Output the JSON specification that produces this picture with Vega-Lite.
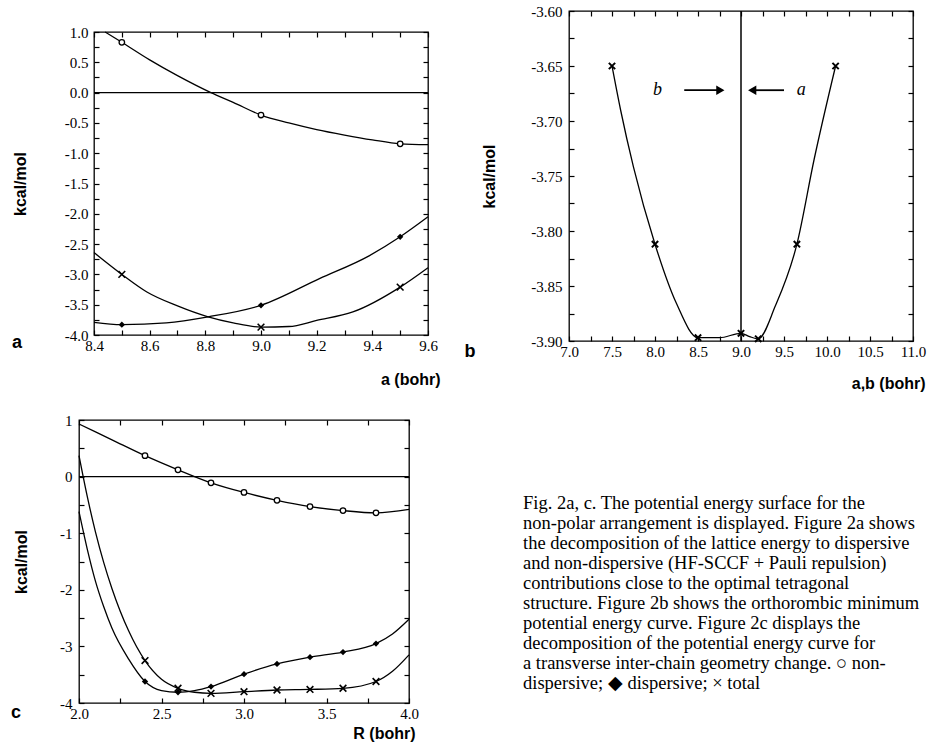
{
  "$schema": "https://vega.github.io/schema/vega-lite/v6.json",
  "background": "white",
  "padding": {"left": 10, "top": 3, "right": 0, "bottom": 0},
  "columns": 2,
  "align": "none",
  "bounds": "full",
  "spacing": {"row": 20, "column": 22},
  "concat": [
    {
      "spacing": -69,
      "hconcat": [
        {
          "width": 1, "height": 1,
          "view": {"stroke": null},
          "data": {"values": [{}]},
          "mark": {"type": "text", "text": ""},
          "encoding": {}
        },
        {
          "spacing": 7,
          "vconcat": [
            {
              "width": 1, "height": 1,
              "view": {"stroke": null},
              "data": {"values": [{}]},
              "mark": {"type": "text", "text": ""},
              "encoding": {}
            },
            {
              "width": 334,
              "height": 303,
              "layer": [
                {
                  "data": {"name": "aLines"},
                  "mark": {"type": "line", "interpolate": "monotone", "color": "black", "strokeWidth": 1.3},
                  "encoding": {
                    "x": {"field": "x", "type": "quantitative",
                      "scale": {"domain": [8.4, 9.6], "nice": false, "zero": false},
                      "axis": {"values": [8.4,8.5,8.6,8.7,8.8,8.9,9.0,9.1,9.2,9.3,9.4,9.5,9.6],
                        "labelExpr": "abs(datum.value*5-round(datum.value*5))<0.01 ? format(datum.value,'.1f') : ''",
                        "labelPadding": 8,
                        "title": "a   (bohr)", "titleAnchor": "end", "titleAlign": "right", "titleX": 346, "titlePadding": 18}},
                    "y": {"field": "y", "type": "quantitative",
                      "scale": {"domain": [-4, 1], "nice": false, "zero": false},
                      "axis": {"values": [-4,-3.75,-3.5,-3.25,-3,-2.75,-2.5,-2.25,-2,-1.75,-1.5,-1.25,-1,-0.75,-0.5,-0.25,0,0.25,0.5,0.75,1],
                        "labelExpr": "abs(datum.value*2-round(datum.value*2))<0.01 ? replace(format(datum.value,'.1f'),'\u2212','-') : ''",
                        "labelPadding": 11,
                        "title": "kcal/mol", "titlePadding": 36}},
                    "detail": {"field": "series"}
                  }
                },
                {
                  "data": {"values": [{}]},
                  "mark": {"type": "rule", "color": "black", "strokeWidth": 1.2},
                  "encoding": {"y": {"datum": 0, "type": "quantitative", "axis": null}}
                },
                {
                  "data": {"name": "aPts"},
                  "transform": [{"filter": "datum.series === 'nd'"}],
                  "mark": {"type": "point", "shape": "circle", "filled": true, "fill": "white", "stroke": "black", "strokeWidth": 1.3, "size": 30, "opacity": 1},
                  "encoding": {
                    "x": {"field": "x", "type": "quantitative",
                      "axis": {"orient": "top", "labels": false, "title": null, "values": [8.4,8.5,8.6,8.7,8.8,8.9,9.0,9.1,9.2,9.3,9.4,9.5,9.6]}},
                    "y": {"field": "y", "type": "quantitative",
                      "axis": {"orient": "right", "labels": false, "title": null, "values": [-4,-3.75,-3.5,-3.25,-3,-2.75,-2.5,-2.25,-2,-1.75,-1.5,-1.25,-1,-0.75,-0.5,-0.25,0,0.25,0.5,0.75,1]}}
                  }
                },
                {
                  "data": {"name": "aPts"},
                  "transform": [{"filter": "datum.series === 'disp'"}],
                  "mark": {"type": "point", "shape": "diamond", "filled": true, "color": "black", "size": 40, "opacity": 1},
                  "encoding": {
                    "x": {"field": "x", "type": "quantitative", "axis": null},
                    "y": {"field": "y", "type": "quantitative", "axis": null}
                  }
                },
                {
                  "data": {"name": "aPts"},
                  "transform": [{"filter": "datum.series === 'tot'"}],
                  "mark": {"type": "point", "shape": "M-1,-1L1,1M-1,1L1,-1", "filled": false, "color": "black", "strokeWidth": 1.6, "size": 45, "opacity": 1},
                  "encoding": {
                    "x": {"field": "x", "type": "quantitative", "axis": null},
                    "y": {"field": "y", "type": "quantitative", "axis": null}
                  }
                },
                {
                  "data": {"values": [{"label": "a"}]},
                  "mark": {"type": "text", "font": "Liberation Sans", "fontWeight": "bold", "fontSize": 18, "color": "black", "align": "center", "baseline": "middle", "dx": -77, "dy": 8},
                  "encoding": {
                    "x": {"datum": 8.4, "type": "quantitative", "axis": null},
                    "y": {"datum": -4, "type": "quantitative", "axis": null},
                    "text": {"field": "label"}
                  }
                }
              ],
              "resolve": {"axis": {"x": "independent", "y": "independent"}}
            }
          ]
        }
      ]
    },
    {
      "width": 344,
      "height": 330,
      "layer": [
        {
          "data": {"name": "bLine"},
          "mark": {"type": "line", "interpolate": "monotone", "color": "black", "strokeWidth": 1.3},
          "encoding": {
            "x": {"field": "x", "type": "quantitative",
              "scale": {"domain": [7, 11], "nice": false, "zero": false},
              "axis": {"values": [7,7.25,7.5,7.75,8,8.25,8.5,8.75,9,9.25,9.5,9.75,10,10.25,10.5,10.75,11],
                "labelExpr": "abs(datum.value*2-round(datum.value*2))<0.01 ? format(datum.value,'.1f') : ''",
                "labelPadding": 8,
                "title": "a,b   (bohr)", "titleAnchor": "end", "titleAlign": "right", "titleX": 356, "titlePadding": 16}},
            "y": {"field": "y", "type": "quantitative",
              "scale": {"domain": [-3.9, -3.6], "nice": false, "zero": false},
              "axis": {"values": [-3.9,-3.875,-3.85,-3.825,-3.8,-3.775,-3.75,-3.725,-3.7,-3.675,-3.65,-3.625,-3.6],
                "labelExpr": "abs(datum.value*20-round(datum.value*20))<0.01 ? replace(format(datum.value,'.2f'),'\u2212','-') : ''",
                "labelPadding": 12,
                "title": "kcal/mol", "titlePadding": 33}}
          }
        },
        {
          "data": {"values": [{}]},
          "mark": {"type": "rule", "color": "black", "strokeWidth": 1.5},
          "encoding": {"x": {"datum": 9.0, "type": "quantitative", "axis": null}}
        },
        {
          "data": {"name": "bPts"},
          "mark": {"type": "point", "shape": "M-1,-1L1,1M-1,1L1,-1", "filled": false, "color": "black", "strokeWidth": 2, "size": 40, "opacity": 1},
          "encoding": {
            "x": {"field": "x", "type": "quantitative",
              "axis": {"orient": "top", "labels": false, "title": null, "values": [7,7.25,7.5,7.75,8,8.25,8.5,8.75,9,9.25,9.5,9.75,10,10.25,10.5,10.75,11]}},
            "y": {"field": "y", "type": "quantitative",
              "axis": {"orient": "right", "labels": false, "title": null, "values": [-3.9,-3.875,-3.85,-3.825,-3.8,-3.775,-3.75,-3.725,-3.7,-3.675,-3.65,-3.625,-3.6]}}
          }
        },
        {
          "data": {"name": "bArrows"},
          "mark": {"type": "rule", "color": "black", "strokeWidth": 1.8},
          "encoding": {
            "x": {"field": "from", "type": "quantitative", "axis": null},
            "x2": {"field": "to"},
            "y": {"field": "y", "type": "quantitative", "axis": null}
          }
        },
        {
          "data": {"name": "bArrows"},
          "transform": [{"filter": "datum.label === 'b'"}],
          "mark": {"type": "point", "shape": "triangle-right", "filled": true, "color": "black", "size": 90, "opacity": 1},
          "encoding": {
            "x": {"field": "to", "type": "quantitative", "axis": null},
            "y": {"field": "y", "type": "quantitative", "axis": null}
          }
        },
        {
          "data": {"name": "bArrows"},
          "transform": [{"filter": "datum.label === 'a'"}],
          "mark": {"type": "point", "shape": "triangle-left", "filled": true, "color": "black", "size": 90, "opacity": 1},
          "encoding": {
            "x": {"field": "to", "type": "quantitative", "axis": null},
            "y": {"field": "y", "type": "quantitative", "axis": null}
          }
        },
        {
          "data": {"name": "bArrows"},
          "mark": {"type": "text", "font": "Liberation Serif", "fontStyle": "italic", "fontSize": 18, "color": "black", "align": "center", "baseline": "middle"},
          "encoding": {
            "x": {"field": "tx", "type": "quantitative", "axis": null},
            "y": {"field": "y", "type": "quantitative", "axis": null},
            "text": {"field": "label"}
          }
        },
        {
          "data": {"values": [{"label": "b"}]},
          "mark": {"type": "text", "font": "Liberation Sans", "fontWeight": "bold", "fontSize": 18, "color": "black", "align": "center", "baseline": "middle", "dx": -99, "dy": 11},
          "encoding": {
            "x": {"datum": 7, "type": "quantitative", "axis": null},
            "y": {"datum": -3.9, "type": "quantitative", "axis": null},
            "text": {"field": "label"}
          }
        }
      ],
      "resolve": {"axis": {"x": "independent", "y": "independent"}}
    },
    {
      "width": 330,
      "height": 283,
      "layer": [
        {
          "data": {"name": "cLines"},
          "mark": {"type": "line", "interpolate": "monotone", "color": "black", "strokeWidth": 1.3},
          "encoding": {
            "x": {"field": "x", "type": "quantitative",
              "scale": {"domain": [2, 4], "nice": false, "zero": false},
              "axis": {"values": [2,2.25,2.5,2.75,3,3.25,3.5,3.75,4],
                "labelExpr": "abs(datum.value*2-round(datum.value*2))<0.01 ? format(datum.value,'.1f') : ''",
                "labelPadding": 8,
                "title": "R    (bohr)", "titleAnchor": "end", "titleAlign": "right", "titleX": 336, "titlePadding": 4}},
            "y": {"field": "y", "type": "quantitative",
              "scale": {"domain": [-4, 1], "nice": false, "zero": false},
              "axis": {"values": [-4,-3.5,-3,-2.5,-2,-1.5,-1,-0.5,0,0.5,1],
                "labelExpr": "abs(datum.value-round(datum.value))<0.01 ? replace(format(datum.value,'d'),'\u2212','-') : ''",
                "labelPadding": 12,
                "title": "kcal/mol", "titlePadding": 30}},
            "detail": {"field": "series"}
          }
        },
        {
          "data": {"values": [{}]},
          "mark": {"type": "rule", "color": "black", "strokeWidth": 1.2},
          "encoding": {"y": {"datum": 0, "type": "quantitative", "axis": null}}
        },
        {
          "data": {"name": "cPts"},
          "transform": [{"filter": "datum.series === 'nd'"}],
          "mark": {"type": "point", "shape": "circle", "filled": true, "fill": "white", "stroke": "black", "strokeWidth": 1.3, "size": 30, "opacity": 1},
          "encoding": {
            "x": {"field": "x", "type": "quantitative",
              "axis": {"orient": "top", "labels": false, "title": null, "values": [2,2.25,2.5,2.75,3,3.25,3.5,3.75,4]}},
            "y": {"field": "y", "type": "quantitative",
              "axis": {"orient": "right", "labels": false, "title": null, "values": [-4,-3.5,-3,-2.5,-2,-1.5,-1,-0.5,0,0.5,1]}}
          }
        },
        {
          "data": {"name": "cPts"},
          "transform": [{"filter": "datum.series === 'disp'"}],
          "mark": {"type": "point", "shape": "diamond", "filled": true, "color": "black", "size": 40, "opacity": 1},
          "encoding": {
            "x": {"field": "x", "type": "quantitative", "axis": null},
            "y": {"field": "y", "type": "quantitative", "axis": null}
          }
        },
        {
          "data": {"name": "cPts"},
          "transform": [{"filter": "datum.series === 'tot'"}],
          "mark": {"type": "point", "shape": "M-1,-1L1,1M-1,1L1,-1", "filled": false, "color": "black", "strokeWidth": 1.6, "size": 45, "opacity": 1},
          "encoding": {
            "x": {"field": "x", "type": "quantitative", "axis": null},
            "y": {"field": "y", "type": "quantitative", "axis": null}
          }
        },
        {
          "data": {"values": [{"label": "c"}]},
          "mark": {"type": "text", "font": "Liberation Sans", "fontWeight": "bold", "fontSize": 18, "color": "black", "align": "center", "baseline": "middle", "dx": -63, "dy": 10},
          "encoding": {
            "x": {"datum": 2, "type": "quantitative", "axis": null},
            "y": {"datum": -4, "type": "quantitative", "axis": null},
            "text": {"field": "label"}
          }
        }
      ],
      "resolve": {"axis": {"x": "independent", "y": "independent"}}
    },
    {
      "width": 400,
      "height": 291,
      "view": {"stroke": null},
      "data": {"name": "caption"},
      "mark": {"type": "text", "align": "left", "baseline": "middle", "font": "Liberation Serif", "fontSize": 18.5, "color": "black", "dx": 60},
      "encoding": {
        "x": {"datum": 0, "type": "quantitative", "scale": {"domain": [0, 1], "nice": false, "zero": false}, "axis": null},
        "y": {"field": "line", "type": "quantitative", "scale": {"domain": [-3.55, 11], "reverse": true, "nice": false, "zero": false}, "axis": null},
        "text": {"field": "text"}
      }
    }
  ],
  "datasets": {
    "aLines": [
      {"series": "nd", "x": 8.44, "y": 1.0},
      {"series": "nd", "x": 8.5, "y": 0.83},
      {"series": "nd", "x": 8.6, "y": 0.54},
      {"series": "nd", "x": 8.7, "y": 0.28},
      {"series": "nd", "x": 8.82, "y": 0.0},
      {"series": "nd", "x": 8.9, "y": -0.16},
      {"series": "nd", "x": 9.0, "y": -0.37},
      {"series": "nd", "x": 9.1, "y": -0.5},
      {"series": "nd", "x": 9.2, "y": -0.61},
      {"series": "nd", "x": 9.3, "y": -0.7},
      {"series": "nd", "x": 9.4, "y": -0.78},
      {"series": "nd", "x": 9.5, "y": -0.845},
      {"series": "nd", "x": 9.6, "y": -0.86},
      {"series": "disp", "x": 8.4, "y": -3.79},
      {"series": "disp", "x": 8.5, "y": -3.83},
      {"series": "disp", "x": 8.66, "y": -3.8},
      {"series": "disp", "x": 8.81, "y": -3.7},
      {"series": "disp", "x": 9.0, "y": -3.51},
      {"series": "disp", "x": 9.21, "y": -3.07},
      {"series": "disp", "x": 9.39, "y": -2.69},
      {"series": "disp", "x": 9.5, "y": -2.38},
      {"series": "disp", "x": 9.6, "y": -2.05},
      {"series": "tot", "x": 8.4, "y": -2.64},
      {"series": "tot", "x": 8.5, "y": -3.0},
      {"series": "tot", "x": 8.59, "y": -3.29},
      {"series": "tot", "x": 8.7, "y": -3.52},
      {"series": "tot", "x": 8.81, "y": -3.7},
      {"series": "tot", "x": 8.9, "y": -3.8},
      {"series": "tot", "x": 9.0, "y": -3.87},
      {"series": "tot", "x": 9.1, "y": -3.86},
      {"series": "tot", "x": 9.2, "y": -3.76},
      {"series": "tot", "x": 9.33, "y": -3.62},
      {"series": "tot", "x": 9.5, "y": -3.21},
      {"series": "tot", "x": 9.6, "y": -2.89}
    ],
    "aPts": [
      {"series": "nd", "x": 8.5, "y": 0.83},
      {"series": "nd", "x": 9.0, "y": -0.37},
      {"series": "nd", "x": 9.5, "y": -0.845},
      {"series": "disp", "x": 8.5, "y": -3.83},
      {"series": "disp", "x": 9.0, "y": -3.51},
      {"series": "disp", "x": 9.5, "y": -2.38},
      {"series": "tot", "x": 8.5, "y": -3.0},
      {"series": "tot", "x": 9.0, "y": -3.87},
      {"series": "tot", "x": 9.5, "y": -3.21}
    ],
    "bLine": [
      {"x": 7.5, "y": -3.65},
      {"x": 7.6, "y": -3.69},
      {"x": 7.75, "y": -3.742},
      {"x": 8.0, "y": -3.812},
      {"x": 8.25, "y": -3.866},
      {"x": 8.5, "y": -3.897},
      {"x": 8.75, "y": -3.897},
      {"x": 9.0, "y": -3.893},
      {"x": 9.1, "y": -3.896},
      {"x": 9.2, "y": -3.898},
      {"x": 9.4, "y": -3.868},
      {"x": 9.65, "y": -3.812},
      {"x": 9.85, "y": -3.735},
      {"x": 10.1, "y": -3.65}
    ],
    "bPts": [
      {"x": 7.5, "y": -3.65},
      {"x": 8.0, "y": -3.812},
      {"x": 8.5, "y": -3.897},
      {"x": 9.0, "y": -3.893},
      {"x": 9.2, "y": -3.898},
      {"x": 9.65, "y": -3.812},
      {"x": 10.1, "y": -3.65}
    ],
    "bArrows": [
      {"label": "b", "tx": 8.03, "from": 8.34, "to": 8.76, "y": -3.672},
      {"label": "a", "tx": 9.7, "from": 9.5, "to": 9.13, "y": -3.672}
    ],
    "cLines": [
      {"series": "nd", "x": 2.0, "y": 0.93},
      {"series": "nd", "x": 2.2, "y": 0.65},
      {"series": "nd", "x": 2.4, "y": 0.37},
      {"series": "nd", "x": 2.6, "y": 0.12},
      {"series": "nd", "x": 2.8, "y": -0.11},
      {"series": "nd", "x": 3.0, "y": -0.28},
      {"series": "nd", "x": 3.2, "y": -0.42},
      {"series": "nd", "x": 3.4, "y": -0.53},
      {"series": "nd", "x": 3.6, "y": -0.6},
      {"series": "nd", "x": 3.8, "y": -0.64},
      {"series": "nd", "x": 4.0, "y": -0.58},
      {"series": "tot", "x": 2.0, "y": 0.37},
      {"series": "tot", "x": 2.05, "y": -0.35},
      {"series": "tot", "x": 2.1, "y": -0.98},
      {"series": "tot", "x": 2.15, "y": -1.52},
      {"series": "tot", "x": 2.2, "y": -1.98},
      {"series": "tot", "x": 2.3, "y": -2.72},
      {"series": "tot", "x": 2.4, "y": -3.25},
      {"series": "tot", "x": 2.5, "y": -3.58},
      {"series": "tot", "x": 2.6, "y": -3.74},
      {"series": "tot", "x": 2.7, "y": -3.81},
      {"series": "tot", "x": 2.8, "y": -3.83},
      {"series": "tot", "x": 3.0, "y": -3.8},
      {"series": "tot", "x": 3.2, "y": -3.77},
      {"series": "tot", "x": 3.4, "y": -3.76},
      {"series": "tot", "x": 3.6, "y": -3.74},
      {"series": "tot", "x": 3.8, "y": -3.62},
      {"series": "tot", "x": 3.9, "y": -3.44},
      {"series": "tot", "x": 4.0, "y": -3.15},
      {"series": "disp", "x": 2.0, "y": -0.62},
      {"series": "disp", "x": 2.05, "y": -1.28},
      {"series": "disp", "x": 2.1, "y": -1.85},
      {"series": "disp", "x": 2.15, "y": -2.3},
      {"series": "disp", "x": 2.2, "y": -2.68},
      {"series": "disp", "x": 2.3, "y": -3.22},
      {"series": "disp", "x": 2.4, "y": -3.62},
      {"series": "disp", "x": 2.5, "y": -3.78},
      {"series": "disp", "x": 2.6, "y": -3.81},
      {"series": "disp", "x": 2.7, "y": -3.78},
      {"series": "disp", "x": 2.8, "y": -3.71},
      {"series": "disp", "x": 3.0, "y": -3.49},
      {"series": "disp", "x": 3.2, "y": -3.31},
      {"series": "disp", "x": 3.4, "y": -3.19},
      {"series": "disp", "x": 3.6, "y": -3.1},
      {"series": "disp", "x": 3.8, "y": -2.95},
      {"series": "disp", "x": 3.9, "y": -2.78},
      {"series": "disp", "x": 4.0, "y": -2.52}
    ],
    "cPts": [
      {"series": "nd", "x": 2.4, "y": 0.37},
      {"series": "nd", "x": 2.6, "y": 0.12},
      {"series": "nd", "x": 2.8, "y": -0.11},
      {"series": "nd", "x": 3.0, "y": -0.28},
      {"series": "nd", "x": 3.2, "y": -0.42},
      {"series": "nd", "x": 3.4, "y": -0.53},
      {"series": "nd", "x": 3.6, "y": -0.6},
      {"series": "nd", "x": 3.8, "y": -0.64},
      {"series": "disp", "x": 2.4, "y": -3.62},
      {"series": "disp", "x": 2.6, "y": -3.81},
      {"series": "disp", "x": 2.8, "y": -3.71},
      {"series": "disp", "x": 3.0, "y": -3.49},
      {"series": "disp", "x": 3.2, "y": -3.31},
      {"series": "disp", "x": 3.4, "y": -3.19},
      {"series": "disp", "x": 3.6, "y": -3.1},
      {"series": "disp", "x": 3.8, "y": -2.95},
      {"series": "tot", "x": 2.4, "y": -3.25},
      {"series": "tot", "x": 2.6, "y": -3.74},
      {"series": "tot", "x": 2.8, "y": -3.83},
      {"series": "tot", "x": 3.0, "y": -3.8},
      {"series": "tot", "x": 3.2, "y": -3.77},
      {"series": "tot", "x": 3.4, "y": -3.76},
      {"series": "tot", "x": 3.6, "y": -3.74},
      {"series": "tot", "x": 3.8, "y": -3.62}
    ],
    "caption": [
      {"line": 1, "text": "Fig. 2a, c. The potential energy surface for the"},
      {"line": 2, "text": "non-polar arrangement is displayed. Figure 2a shows"},
      {"line": 3, "text": "the decomposition of the lattice energy to dispersive"},
      {"line": 4, "text": "and non-dispersive (HF-SCCF + Pauli repulsion)"},
      {"line": 5, "text": "contributions close to the optimal tetragonal"},
      {"line": 6, "text": "structure. Figure 2b shows the orthorombic minimum"},
      {"line": 7, "text": "potential energy curve. Figure 2c displays the"},
      {"line": 8, "text": "decomposition of the potential energy curve for"},
      {"line": 9, "text": "a transverse inter-chain geometry change. ○ non-"},
      {"line": 10, "text": "dispersive; ◆ dispersive; × total"}
    ]
  },
  "config": {
    "view": {"stroke": "black", "strokeWidth": 1.3},
    "title": {"color": "black"},
    "axis": {
      "grid": false,
      "domain": false,
      "ticks": true,
      "tickColor": "black",
      "tickSize": -5,
      "tickWidth": 1.2,
      "labelFont": "Liberation Serif",
      "labelFontSize": 15,
      "labelColor": "black",
      "labelPadding": 8,
      "labelOverlap": false,
      "labelFlush": false,
      "titleFont": "Liberation Sans",
      "titleFontWeight": "bold",
      "titleFontSize": 16,
      "titleColor": "black"
    }
  }
}
